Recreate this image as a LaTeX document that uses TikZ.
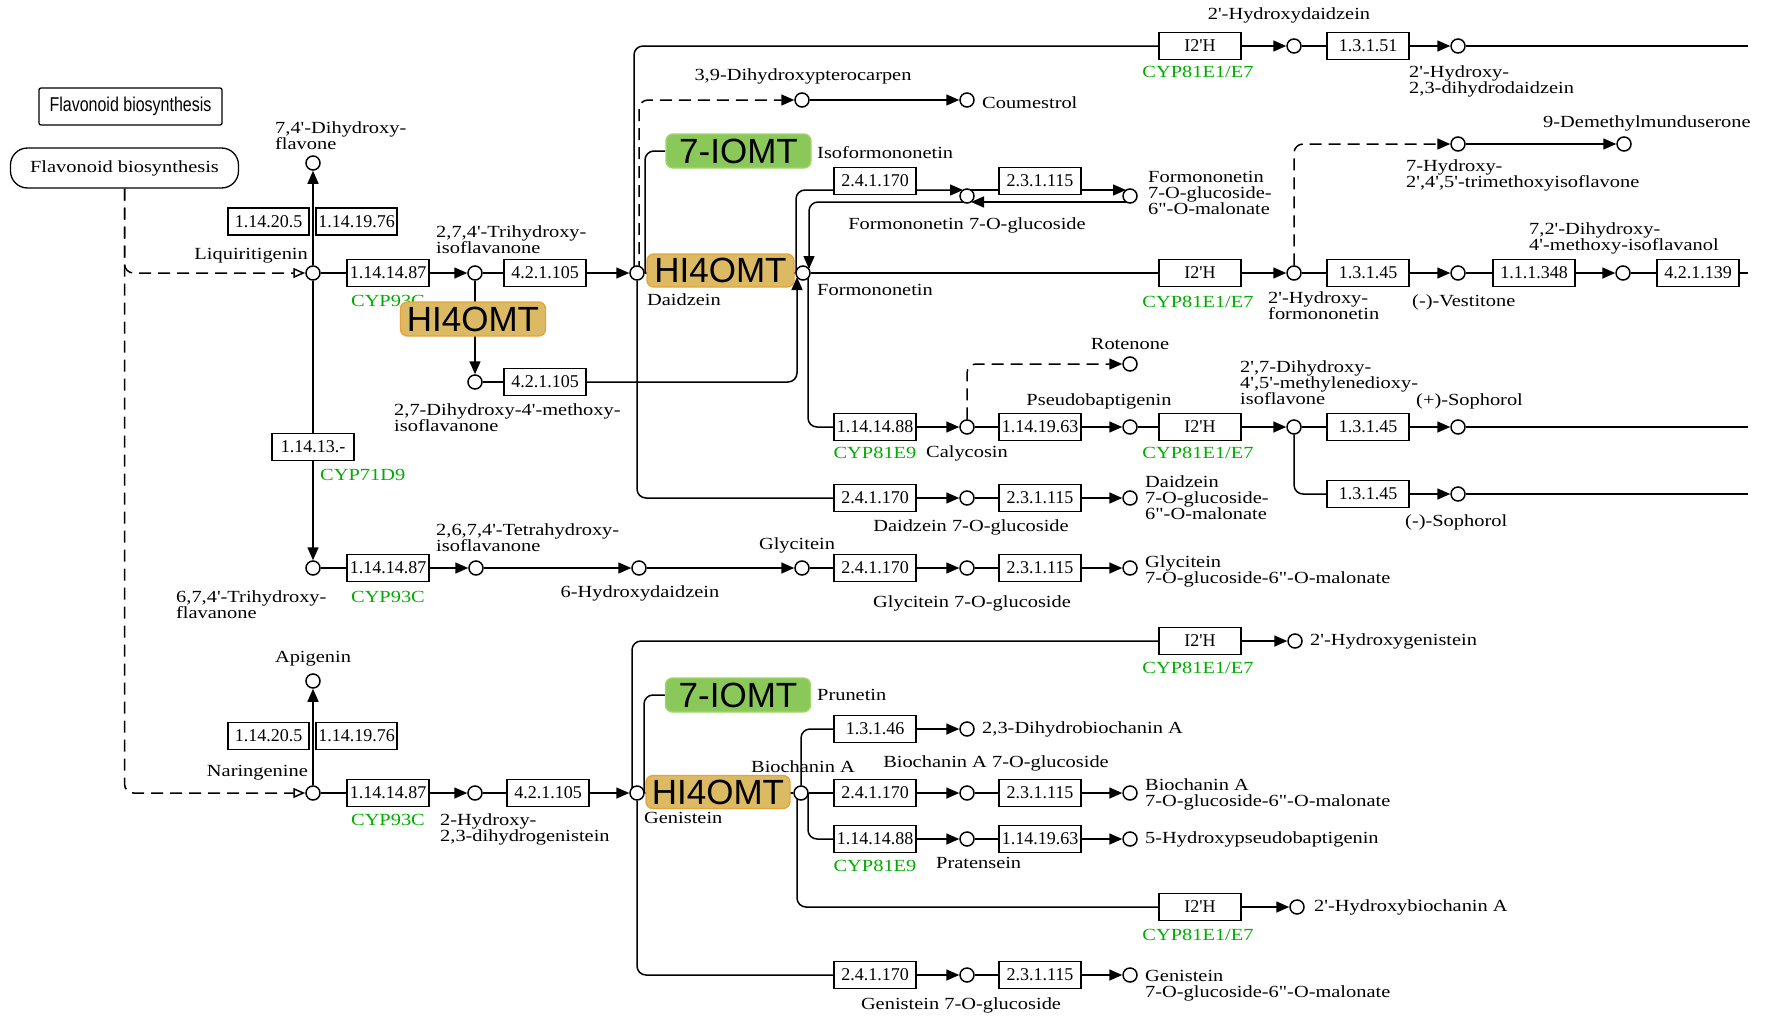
\documentclass[tikz,border=0pt]{standalone}
\usepackage{fontspec}
\setmainfont{Liberation Serif}[FakeStretch=1.2,Ligatures=TeXOff]
\newfontfamily\ecfam{Liberation Serif}[Ligatures=TeXOff]
\newfontfamily\genefam{Liberation Sans}
\newfontfamily\mapfam{Liberation Sans}[FakeStretch=0.8]
\usetikzlibrary{arrows.meta,positioning,backgrounds}
\definecolor{cypgreen}{RGB}{0,172,0}
\definecolor{hiofill}{RGB}{220,186,100}
\definecolor{hiodraw}{RGB}{232,162,58}
\definecolor{iomfill}{RGB}{138,200,90}
\definecolor{iomdraw}{RGB}{160,214,106}

\begin{document}
\begin{tikzpicture}[x=1pt,y=-1pt,font=\fontsize{17}{16}\selectfont]
    \tikzstyle{cpd}=[circle, draw, fill=white, line width=1.5pt, minimum size=14pt, inner sep=0pt]
    \tikzstyle{ec}=[rectangle, draw, fill=white, line width=1.4pt, minimum width=82pt, minimum height=27pt, inner sep=0pt, font=\ecfam\fontsize{18}{18}\selectfont]
    \tikzstyle{gene}=[rectangle, rounded corners=7pt, line width=1.4pt, minimum width=145pt, minimum height=34pt, inner sep=0pt, font=\genefam\fontsize{35}{35}\selectfont]
    \tikzstyle{hio}=[gene, draw=hiodraw, fill=hiofill]
    \tikzstyle{iom}=[gene, draw=iomdraw, fill=iomfill]
    \tikzstyle{txt}=[inner sep=0pt, align=left]
    \tikzstyle{cyp}=[inner sep=0pt, text=cypgreen]
    \tikzstyle{link}=[line width=1.5pt]
    \tikzstyle{connect}=[line width=1.5pt, -{Triangle[length=13pt,width=11pt]}]
    \tikzstyle{maybe}=[line width=1.5pt, dash pattern=on 12pt off 7pt]
    \tikzstyle{elbow}=[rounded corners=9pt]
    \useasboundingbox (0,0) rectangle (1766,1017);

    % map links
    \node[draw, line width=1.3pt, rounded corners=2pt, minimum width=183pt, minimum height=37pt, inner sep=0pt, font=\mapfam\fontsize{20}{20}\selectfont] (mapA) at (130.5,106.5) {Flavonoid biosynthesis};
    \node[draw, line width=1.3pt, rounded corners=17pt, minimum width=228pt, minimum height=40pt, inner sep=0pt] (mapB) at (124.5,168) {Flavonoid biosynthesis};

    % compounds
    \node[cpd] (liq) at (313,273) {};
    \node[cpd] (dhf) at (313,163) {};
    \node[cpd] (thi) at (475,273) {};
    \node[cpd] (dai) at (637,273) {};
    \node[cpd] (frm) at (803,273) {};
    \node[cpd] (dmi) at (475,382) {};
    \node[cpd] (dhp) at (802,100) {};
    \node[cpd] (cou) at (967,100) {};
    \node[cpd] (fgl) at (967,196) {};
    \node[cpd] (fmg) at (1130,196) {};
    \node[cpd] (hdz) at (1294,46) {};
    \node[cpd] (hdd) at (1458,46) {};
    \node[cpd] (hfm) at (1294,273) {};
    \node[cpd] (tmi) at (1458,144) {};
    \node[cpd] (dmm) at (1624,144) {};
    \node[cpd] (ves) at (1458,273) {};
    \node[cpd] (dmf) at (1623,273) {};
    \node[cpd] (cal) at (967,427) {};
    \node[cpd] (rot) at (1130,364) {};
    \node[cpd] (psb) at (1130,427) {};
    \node[cpd] (mdi) at (1294,427) {};
    \node[cpd] (sop) at (1458,427) {};
    \node[cpd] (som) at (1458,494) {};
    \node[cpd] (dgl) at (967,498) {};
    \node[cpd] (dmg) at (1130,498) {};
    \node[cpd] (ttf) at (313,568) {};
    \node[cpd] (tti) at (476,568) {};
    \node[cpd] (hdx) at (639,568) {};
    \node[cpd] (gly) at (802,568) {};
    \node[cpd] (ggl) at (967,568) {};
    \node[cpd] (gmg) at (1130,568) {};
    \node[cpd] (api) at (313,681) {};
    \node[cpd] (nar) at (313,793) {};
    \node[cpd] (hdg) at (475,793) {};
    \node[cpd] (gen) at (637,793) {};
    \node[cpd] (bia) at (801,793) {};
    \node[cpd] (hge) at (1295,641) {};
    \node[cpd] (dba) at (967,729) {};
    \node[cpd] (bgl) at (967,793) {};
    \node[cpd] (bmg) at (1130,793) {};
    \node[cpd] (pra) at (967,839) {};
    \node[cpd] (hpb) at (1130,839) {};
    \node[cpd] (hba) at (1297,907) {};
    \node[cpd] (ggn) at (967,975) {};
    \node[cpd] (gmn) at (1130,975) {};
    \coordinate (endA) at (1748,46);
    \coordinate (endB) at (1748,273);
    \coordinate (endC) at (1748,427);
    \coordinate (endD) at (1748,494);

    % enzymes
    \node[ec, minimum width=81pt] (e1) at (268.5,221.5) {1.14.20.5};
    \node[ec, minimum width=81pt] (e2) at (356.5,221.5) {1.14.19.76};
    \node[ec] (e3) at (388,273) {1.14.14.87};
    \node[ec] (e4) at (545,273) {4.2.1.105};
    \node[ec] (e5) at (545,382) {4.2.1.105};
    \node[ec] (e6) at (875,181) {2.4.1.170};
    \node[ec] (e7) at (1040,181) {2.3.1.115};
    \node[ec] (e8) at (1200,46) {I2'H};
    \node[ec] (e9) at (1368,46) {1.3.1.51};
    \node[ec] (e10) at (1200,273) {I2'H};
    \node[ec] (e11) at (1368,273) {1.3.1.45};
    \node[ec] (e12) at (1534,273) {1.1.1.348};
    \node[ec] (e13) at (1698,273) {4.2.1.139};
    \node[ec] (e14) at (875,427) {1.14.14.88};
    \node[ec] (e15) at (1040,427) {1.14.19.63};
    \node[ec] (e16) at (1200,427) {I2'H};
    \node[ec] (e17) at (1368,427) {1.3.1.45};
    \node[ec] (e18) at (1368,494) {1.3.1.45};
    \node[ec] (e19) at (875,498) {2.4.1.170};
    \node[ec] (e20) at (1040,498) {2.3.1.115};
    \node[ec] (e21) at (313,447) {1.14.13.-};
    \node[ec] (e22) at (388,568) {1.14.14.87};
    \node[ec] (e23) at (875,568) {2.4.1.170};
    \node[ec] (e24) at (1040,568) {2.3.1.115};
    \node[ec, minimum width=81pt] (e25) at (268.5,736) {1.14.20.5};
    \node[ec, minimum width=81pt] (e26) at (356.5,736) {1.14.19.76};
    \node[ec] (e27) at (388,793) {1.14.14.87};
    \node[ec] (e28) at (548,793) {4.2.1.105};
    \node[ec] (e29) at (1200,641) {I2'H};
    \node[ec] (e30) at (875,729) {1.3.1.46};
    \node[ec] (e31) at (875,793) {2.4.1.170};
    \node[ec] (e32) at (1040,793) {2.3.1.115};
    \node[ec] (e33) at (875,839) {1.14.14.88};
    \node[ec] (e34) at (1040,839) {1.14.19.63};
    \node[ec] (e35) at (1200,907) {I2'H};
    \node[ec] (e36) at (875,975) {2.4.1.170};
    \node[ec] (e37) at (1040,975) {2.3.1.115};

    % genes
    \node[cyp] (c1) at (388,301) {CYP93C};
    \node[cyp] (c2) at (1198,72) {CYP81E1/E7};
    \node[cyp] (c3) at (1198,302) {CYP81E1/E7};
    \node[cyp] (c4) at (875,453) {CYP81E9};
    \node[cyp] (c5) at (1198,453) {CYP81E1/E7};
    \node[cyp, anchor=west] (c6) at (320,475) {CYP71D9};
    \node[cyp] (c7) at (388,597) {CYP93C};
    \node[cyp] (c8) at (388,820) {CYP93C};
    \node[cyp] (c9) at (1198,668) {CYP81E1/E7};
    \node[cyp] (c10) at (875,866) {CYP81E9};
    \node[cyp] (c11) at (1198,935) {CYP81E1/E7};
    \node[hio] (g1) at (473,319) {HI4OMT};
    \node[iom] (g2) at (738.5,151) {7-IOMT};
    \node[hio, minimum width=147pt, minimum height=33pt] (g3) at (720.5,270.5) {HI4OMT};
    \node[iom] (g4) at (738,695) {7-IOMT};
    \node[hio, minimum width=144pt, minimum height=33pt] (g5) at (718,792) {HI4OMT};

    % compound names
    \node[txt, anchor=north west] (lDhf) at (275,122) {7,4'-Dihydroxy-\\flavone};
    \node[txt, anchor=east] (lLiq) at (308,256) {Liquiritigenin};
    \node[txt, anchor=north west] (lThi) at (436,226) {2,7,4'-Trihydroxy-\\isoflavanone};
    \node[txt, anchor=west] (lDai) at (647,300) {Daidzein};
    \node[txt, anchor=west] (lFrm) at (817,290) {Formononetin};
    \node[txt, anchor=west] (lIso) at (817,153) {Isoformononetin};
    \node[txt] (lDhp) at (803,76) {3,9-Dihydroxypterocarpen};
    \node[txt, anchor=west] (lCou) at (982,103) {Coumestrol};
    \node[txt] (lFgl) at (967,225) {Formononetin 7-O-glucoside};
    \node[txt, anchor=north west] (lFmg) at (1148,171) {Formononetin\\7-O-glucoside-\\6"-O-malonate};
    \node[txt] (lHdz) at (1289,15) {2'-Hydroxydaidzein};
    \node[txt, anchor=north west] (lHdd) at (1409,66) {2'-Hydroxy-\\2,3-dihydrodaidzein};
    \node[txt, anchor=west] (lDmm) at (1543,123) {9-Demethylmunduserone};
    \node[txt, anchor=north west] (lTmi) at (1406,160) {7-Hydroxy-\\2',4',5'-trimethoxyisoflavone};
    \node[txt, anchor=north west] (lHfm) at (1268,291) {2'-Hydroxy-\\formononetin};
    \node[txt, anchor=west] (lVes) at (1412,302) {(-)-Vestitone};
    \node[txt, anchor=north west] (lDmf) at (1529,223) {7,2'-Dihydroxy-\\4'-methoxy-isoflavanol};
    \node[txt, anchor=north west] (lDmi) at (394,403) {2,7-Dihydroxy-4'-methoxy-\\isoflavanone};
    \node[txt] (lRot) at (1130,344) {Rotenone};
    \node[txt] (lPsb) at (1099,401) {Pseudobaptigenin};
    \node[txt, anchor=west] (lCal) at (926,453) {Calycosin};
    \node[txt, anchor=north west] (lMdi) at (1240,360) {2',7-Dihydroxy-\\4',5'-methylenedioxy-\\isoflavone};
    \node[txt, anchor=west] (lSop) at (1416,401) {(+)-Sophorol};
    \node[txt, anchor=west] (lSom) at (1405,522) {(-)-Sophorol};
    \node[txt] (lDgl) at (971,527) {Daidzein 7-O-glucoside};
    \node[txt, anchor=north west] (lDmg) at (1145,475) {Daidzein\\7-O-glucoside-\\6"-O-malonate};
    \node[txt, anchor=north west] (lTtf) at (176,590) {6,7,4'-Trihydroxy-\\flavanone};
    \node[txt, anchor=north west] (lTti) at (436,523) {2,6,7,4'-Tetrahydroxy-\\isoflavanone};
    \node[txt] (lHdx) at (640,593) {6-Hydroxydaidzein};
    \node[txt] (lGly) at (797,545) {Glycitein};
    \node[txt] (lGgl) at (972,603) {Glycitein 7-O-glucoside};
    \node[txt, anchor=north west] (lGmg) at (1145,555) {Glycitein\\7-O-glucoside-6"-O-malonate};
    \node[txt] (lApi) at (313,659) {Apigenin};
    \node[txt, anchor=east] (lNar) at (308,773) {Naringenine};
    \node[txt, anchor=north west] (lHdg) at (440,813) {2-Hydroxy-\\2,3-dihydrogenistein};
    \node[txt, anchor=west] (lGen) at (644,818) {Genistein};
    \node[txt] (lBia) at (803,767) {Biochanin A};
    \node[txt, anchor=west] (lPru) at (817,695) {Prunetin};
    \node[txt, anchor=west] (lHge) at (1310,641) {2'-Hydroxygenistein};
    \node[txt, anchor=west] (lDba) at (982,729) {2,3-Dihydrobiochanin A};
    \node[txt] (lBgl) at (996,763) {Biochanin A 7-O-glucoside};
    \node[txt, anchor=north west] (lBmg) at (1145,778) {Biochanin A\\7-O-glucoside-6"-O-malonate};
    \node[txt, anchor=west] (lHpb) at (1145,839) {5-Hydroxypseudobaptigenin};
    \node[txt, anchor=west] (lPra) at (936,863) {Pratensein};
    \node[txt, anchor=west] (lHba) at (1314,907) {2'-Hydroxybiochanin A};
    \node[txt] (lGgn) at (961,1005) {Genistein 7-O-glucoside};
    \node[txt, anchor=north west] (lGmn) at (1145,970) {Genistein\\7-O-glucoside-6"-O-malonate};

    \begin{scope}[on background layer]
    % from the flavonoid map
    \draw[maybe, elbow, -{Triangle[open,length=12pt,width=10pt]}] (mapB.south) |- (liq);
    \draw[maybe, elbow, -{Triangle[open,length=12pt,width=10pt]}] (mapB.south) |- (nar);
    % liquiritigenin / daidzein branch
    \path[link] (liq) edge[connect] (dhf)
        (liq) edge (e3)
        (e3) edge[connect] (thi)
        (thi) edge (e4)
        (e4) edge[connect] (dai)
        (thi) edge[connect] (dmi)
        (dmi) edge (e5)
        (liq) edge (e21)
        (e21) edge[connect] (ttf)
        (dai) edge (frm)
        (dhp) edge[connect] (cou)
        (e8) edge[connect] (hdz)
        (hdz) edge (e9)
        (e9) edge[connect] (hdd)
        (hdd) edge (endA);
    \draw[link, elbow] ([xshift=-3pt]dai.center) |- (e8);
    \draw[maybe, connect, elbow] ([xshift=2pt]dai.center) |- (dhp);
    \draw[link, elbow] ([xshift=8pt]dai.center) |- (g2);
    \draw[link, elbow] (dai) |- (e19);
    \path[link] (e19) edge[connect] (dgl)
        (dgl) edge (e20)
        (e20) edge[connect] (dmg);
    % formononetin
    \draw[connect, elbow] ([xshift=-7pt]frm.center) |- ([shift={(-4,-6)}]fgl.center);
    \draw[connect] ([shift={(4,-6)}]fgl.center) -- ([shift={(-4,-6)}]fmg.center);
    \draw[connect] ([shift={(-4,6)}]fmg.center) -- ([shift={(4,6)}]fgl.center);
    \draw[connect, elbow] ([shift={(-4,6)}]fgl.center) -| ([shift={(6,-4)}]frm.center);
    \draw[connect, elbow] (e5) -| ([shift={(-6,4)}]frm.center);
    \path[link] (frm) edge (e10)
        (e10) edge[connect] (hfm)
        (hfm) edge (e11)
        (e11) edge[connect] (ves)
        (ves) edge (e12)
        (e12) edge[connect] (dmf)
        (dmf) edge (e13)
        (e13) edge (endB)
        (tmi) edge[connect] (dmm);
    \draw[maybe, connect, elbow] (hfm) |- (tmi);
    \draw[link, elbow] ([xshift=5pt]frm.center) |- (e14);
    \path[link] (e14) edge[connect] (cal)
        (cal) edge (e15)
        (e15) edge[connect] (psb)
        (psb) edge (e16)
        (e16) edge[connect] (mdi)
        (mdi) edge (e17)
        (e17) edge[connect] (sop)
        (sop) edge (endC)
        (e18) edge[connect] (som)
        (som) edge (endD);
    \draw[maybe, connect, elbow] (cal) |- (rot);
    \draw[link, elbow] (mdi) |- (e18);
    % glycitein row
    \path[link] (ttf) edge (e22)
        (e22) edge[connect] (tti)
        (tti) edge[connect] (hdx)
        (hdx) edge[connect] (gly)
        (gly) edge (e23)
        (e23) edge[connect] (ggl)
        (ggl) edge (e24)
        (e24) edge[connect] (gmg);
    % naringenine / genistein branch
    \path[link] (nar) edge[connect] (api)
        (nar) edge (e27)
        (e27) edge[connect] (hdg)
        (hdg) edge (e28)
        (e28) edge[connect] (gen)
        (gen) edge (bia)
        (e29) edge[connect] (hge)
        (e30) edge[connect] (dba)
        (bia) edge (e31)
        (e31) edge[connect] (bgl)
        (bgl) edge (e32)
        (e32) edge[connect] (bmg)
        (e33) edge[connect] (pra)
        (pra) edge (e34)
        (e34) edge[connect] (hpb)
        (e35) edge[connect] (hba)
        (e36) edge[connect] (ggn)
        (ggn) edge (e37)
        (e37) edge[connect] (gmn);
    \draw[link, elbow] ([xshift=-5pt]gen.center) |- (e29);
    \draw[link, elbow] ([xshift=7pt]gen.center) |- (g4);
    \draw[link, elbow] (bia) |- (e30);
    \draw[link, elbow] ([xshift=7pt]bia.center) |- (e33);
    \draw[link, elbow] ([xshift=-4pt]bia.center) |- (e35);
    \draw[link, elbow] (gen) |- (e36);
    \end{scope}
\end{tikzpicture}
\end{document}
